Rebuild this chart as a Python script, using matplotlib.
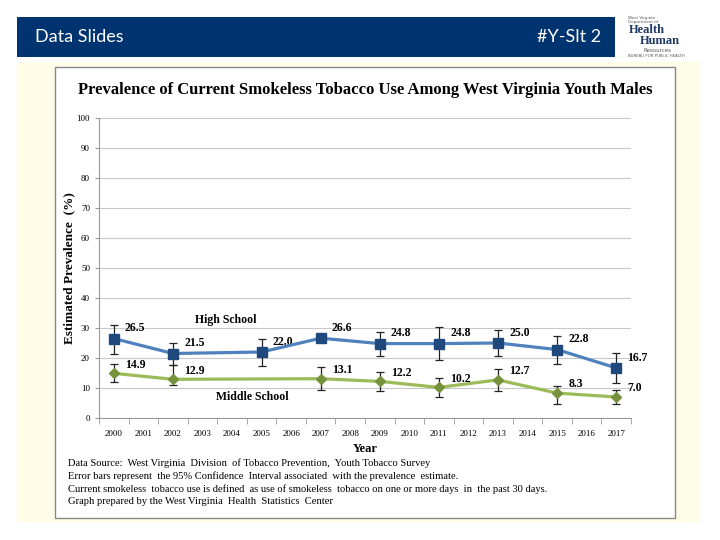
import matplotlib.pyplot as plt
import numpy as np
from matplotlib.patches import Rectangle

W, H = 720, 540

# Datos
anios = list(range(2000, 2018))
hs_anios = [2000, 2002, 2005, 2007, 2009, 2011, 2013, 2015, 2017]
hs_valores = [26.5, 21.5, 22.0, 26.6, 24.8, 24.8, 25.0, 22.8, 16.7]
hs_inferior = [21.4, 17.7, 17.4, 26.6, 20.7, 19.3, 20.8, 18.0, 11.8]
hs_superior = [31.1, 24.9, 26.2, 26.6, 28.6, 30.2, 29.3, 27.4, 21.6]

ms_anios = [2000, 2002, 2007, 2009, 2011, 2013, 2015, 2017]
ms_valores = [14.9, 12.9, 13.1, 12.2, 10.2, 12.7, 8.3, 7.0]
ms_inferior = [12.1, 11.0, 9.5, 9.0, 6.9, 9.1, 4.6, 4.6]
ms_superior = [17.9, 17.7, 17.1, 15.3, 13.2, 16.3, 10.7, 9.3]

notas = [
    "Data Source:  West Virginia  Division  of Tobacco Prevention,  Youth Tobacco Survey",
    "Error bars represent  the 95% Confidence  Interval associated  with the prevalence  estimate.",
    "Current smokeless  tobacco use is defined  as use of smokeless  tobacco on one or more days  in  the past 30 days.",
    "Graph prepared by the West Virginia  Health  Statistics  Center",
]

SERIF = 'Liberation Serif'
AZUL_LINEA = '#4f81bd'
AZUL_MARCA = '#1f497d'
VERDE_LINEA = '#9bbb59'
VERDE_MARCA = '#76923c'

fig = plt.figure(figsize=(W / 100, H / 100), dpi=100)
fig.patch.set_facecolor('white')


def caja(x0, y0, x1, y1, **kw):
    """Rectángulo en coordenadas de píxel (origen arriba a la izquierda)."""
    r = Rectangle((x0 / W, 1 - y1 / H), (x1 - x0) / W, (y1 - y0) / H,
                  transform=fig.transFigure, zorder=-10, **kw)
    fig.patches.append(r)


def texto(x, y, s, **kw):
    fig.text(x / W, 1 - y / H, s, **kw)


# Cabecera
caja(17, 17, 615, 57, facecolor='#003470', edgecolor='none')
texto(35, 37, 'Data Slides', color='white', fontsize=13, family='Lato', va='center')
texto(601, 37, '#Y-Slt 2', color='white', fontsize=13, family='Lato', va='center', ha='right')
# Logo (aproximado)
texto(628, 20, 'West Virginia\nDepartment of', color='#555555', fontsize=3, family='DejaVu Sans',
      va='center', linespacing=1.0)
texto(629, 30, 'Health', color='#1f3864', fontsize=9, family=SERIF, weight='bold', va='center')
texto(640, 41, 'Human', color='#1f3864', fontsize=9, family=SERIF, weight='bold', va='center')
texto(644, 50, 'Resources', color='#555555', fontsize=4, family='DejaVu Sans', va='center')
texto(628, 56, 'BUREAU FOR PUBLIC HEALTH', color='#555555', fontsize=2.8, family='DejaVu Sans',
      va='center')

# Fondo amarillo y caja del gráfico
caja(17, 62, 700, 522, facecolor='#fffde8', edgecolor='none')
caja(55, 67, 675, 518, facecolor='white', edgecolor='#888888', linewidth=1)

texto(365, 90, 'Prevalence of Current Smokeless Tobacco Use Among West Virginia Youth Males',
      fontsize=12, family=SERIF, weight='bold', ha='center', va='center')

ax = fig.add_axes([99 / W, (H - 418) / H, 532 / W, 300 / H])
ax.set_facecolor('white')
ax.set_xlim(1999.5, 2017.5)
ax.set_ylim(0, 100)
ax.set_yticks(np.arange(0, 101, 10))
ax.grid(axis='y', color='#c8c8c8', linewidth=0.8)
ax.set_axisbelow(True)
for lado in ['top', 'right']:
    ax.spines[lado].set_visible(False)
ax.spines['left'].set_color('#999999')
ax.spines['bottom'].set_color('#999999')
ax.set_xticks(anios)
ax.set_xticklabels([str(a) for a in anios], fontsize=6.5, family=SERIF)
ax.tick_params(axis='x', length=0, pad=9)
ax.set_xticks(np.arange(1999.5, 2018, 1), minor=True)
ax.tick_params(axis='x', which='minor', length=4, color='#999999', direction='out')
ax.tick_params(axis='y', length=3, color='#999999', labelsize=6.5)
for lbl in ax.get_yticklabels():
    lbl.set_family(SERIF)

ax.set_xlabel('Year', fontsize=9, family=SERIF, weight='bold', labelpad=2)
ax.xaxis.set_label_coords(0.5, -0.085)
ax.set_ylabel('Estimated Prevalence  (%)', fontsize=9.5, family=SERIF, weight='bold')
ax.yaxis.set_label_coords(-0.045, 0.5)

# High School
hs_err = [np.array(hs_valores) - np.array(hs_inferior), np.array(hs_superior) - np.array(hs_valores)]
ax.errorbar(hs_anios, hs_valores, yerr=hs_err, fmt='none', ecolor='#222222', elinewidth=0.9,
            capsize=3, capthick=0.9, zorder=3)
ax.plot(hs_anios, hs_valores, '-', color=AZUL_LINEA, linewidth=2.3, zorder=4)
ax.plot(hs_anios, hs_valores, 's', color=AZUL_MARCA, markersize=7.5, zorder=5)

# Middle School
ms_err = [np.array(ms_valores) - np.array(ms_inferior), np.array(ms_superior) - np.array(ms_valores)]
ax.errorbar(ms_anios, ms_valores, yerr=ms_err, fmt='none', ecolor='#222222', elinewidth=0.9,
            capsize=3, capthick=0.9, zorder=3)
ax.plot(ms_anios, ms_valores, '-', color=VERDE_LINEA, linewidth=2.3, zorder=4)
ax.plot(ms_anios, ms_valores, 'D', color=VERDE_MARCA, markersize=5.5, zorder=5)

# Etiquetas de valores
for x, v in zip(hs_anios, hs_valores):
    ax.annotate(f'{v:.1f}', (x, v), xytext=(8, 3), textcoords='offset points',
                fontsize=8.5, family=SERIF, weight='bold', va='bottom')
for x, v in zip(ms_anios, ms_valores):
    ax.annotate(f'{v:.1f}', (x, v), xytext=(8, 2), textcoords='offset points',
                fontsize=8.5, family=SERIF, weight='bold', va='bottom')

ax.text(2003.8, 31.5, 'High School', fontsize=8.5, family=SERIF, weight='bold', ha='center')
ax.text(2004.7, 6.0, 'Middle School', fontsize=8.5, family=SERIF, weight='bold', ha='center')

# Notas
for i, linea in enumerate(notas):
    texto(68, 463 + i * 13, linea, fontsize=7.6, family=SERIF, va='center')

fig.savefig('out.png', dpi=100)
